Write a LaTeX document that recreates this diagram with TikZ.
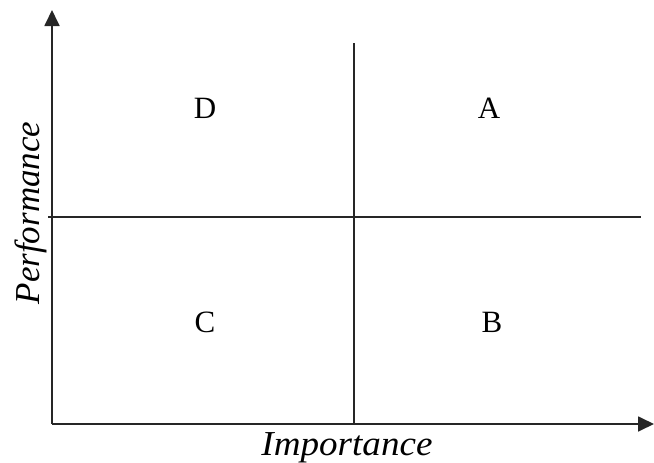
\documentclass[tikz,border=0pt]{standalone}
\usepackage{fontspec}
\setmainfont{Liberation Serif}
\usetikzlibrary{arrows.meta}
\begin{document}
\begin{tikzpicture}[x=1pt,y=-1pt,
  axis/.style={line width=1.8pt,draw=black!85,-{Triangle[length=16pt,width=15pt]}},
  divider/.style={line width=1.7pt,draw=black!85},
  quad/.style={font=\fontsize{31}{31}\selectfont,inner sep=0pt},
  axlabel/.style={font=\fontsize{35}{35}\selectfont\itshape,inner sep=0pt}]
\useasboundingbox (0,0) rectangle (654,463);
\coordinate (O) at (52,424);
\coordinate (ytip) at (52,10);
\coordinate (xtip) at (654,424);
\coordinate (hl) at (48,217);
\coordinate (hr) at (641,217);
\coordinate (vt) at (354,43);
\coordinate (vb) at (354,424);
\draw[divider] (hl) -- (hr);
\draw[divider] (vt) -- (vb);
\draw[axis] (O) -- (ytip);
\draw[axis] (O) -- (xtip);
\node[quad] (D) at (205,108) {D};
\node[quad] (A) at (489,108) {A};
\node[quad] (C) at (205,322) {C};
\node[quad] (B) at (492,322) {B};
\node[axlabel,anchor=base,xscale=1.06] (imp) at (347,455) {Importance};
\node[axlabel,anchor=base,rotate=90] (perf) at (39,213) {Performance};
\end{tikzpicture}
\end{document}
